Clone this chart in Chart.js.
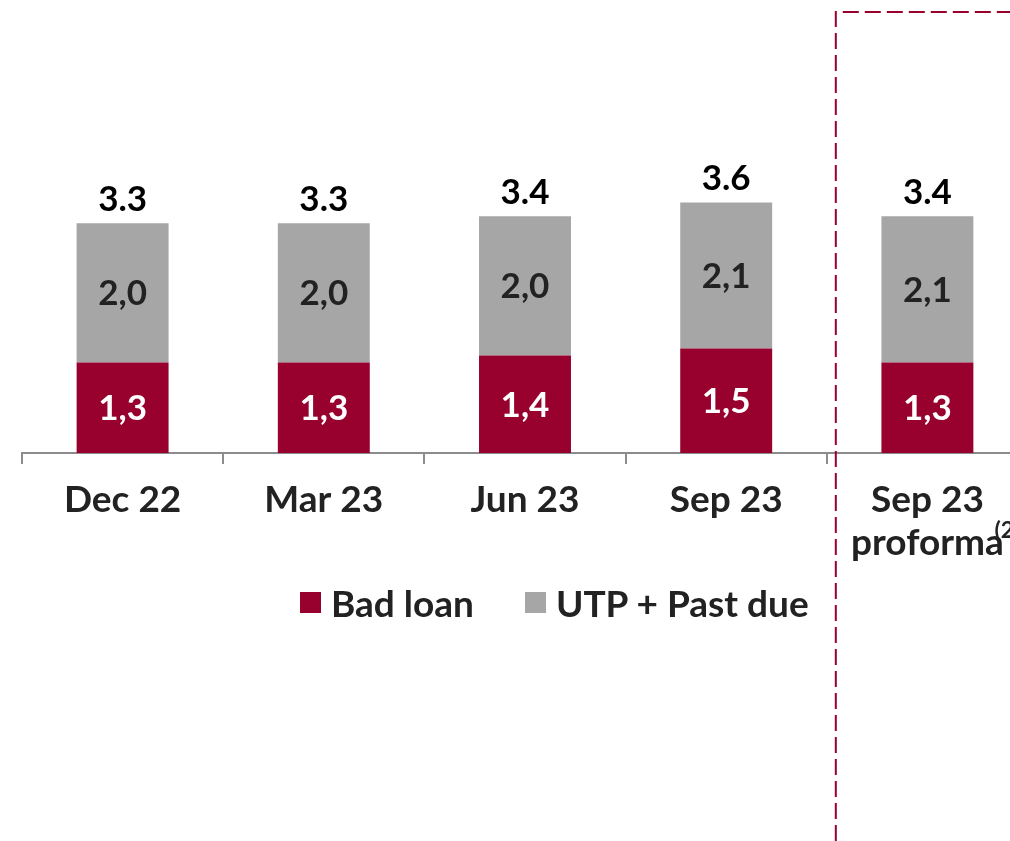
<!DOCTYPE html>
<html>
<head>
<meta charset="utf-8">
<script src="https://cdn.jsdelivr.net/npm/chart.js@4.4.0/dist/chart.umd.min.js"></script>
<style>
  html, body { margin: 0; padding: 0; background: #fff; overflow: hidden; width: 1010px; height: 841px; }
  #wrap { position: relative; width: 1110px; height: 841px; }
  #legend { position: absolute; left: 300px; top: 580px; font-family: Lato, sans-serif; font-weight: 700;
            font-size: 37px; color: #222; white-space: nowrap; display: flex; align-items: center; }
  #legend .item { display: flex; align-items: center; margin-right: 51px; }
  #legend .box { width: 21px; height: 21px; margin-right: 10px; }
</style>
</head>
<body>
<div id="wrap">
  <canvas id="myChart" width="1110" height="841"></canvas>
  <div id="legend"></div>
</div>
<script>
// chart data
const categories = ["Dec 22", "Mar 23", "Jun 23", "Sep 23", ["Sep 23", "proforma"]];
const badLoan = [1.3, 1.3, 1.4, 1.5, 1.3];
const utpPastDue = [2.0, 2.0, 2.0, 2.1, 2.1];
const totals = [3.3, 3.3, 3.4, 3.6, 3.4];
const seriesNames = ["Bad loan", "UTP + Past due"];
const seriesColors = ["#98002e", "#a6a6a6"];

const FONT = "Lato, 'DejaVu Sans', sans-serif";

// labels inside bars + totals on top
const valueLabels = {
    id: 'valueLabels',
    afterDatasetsDraw(chart) {
        const ctx = chart.ctx;
        ctx.save();
        ctx.textAlign = 'center';
        ctx.font = "bold 35px " + FONT;
        chart.data.datasets.forEach((ds, di) => {
            const meta = chart.getDatasetMeta(di);
            meta.data.forEach((bar, i) => {
                const v = ds.data[i];
                ctx.fillStyle = di == 0 ? '#ffffff' : '#222222';
                ctx.textBaseline = 'middle';
                ctx.fillText(v.toFixed(1).replace('.', ','), bar.x, (bar.y + bar.base) / 2 + 1);
            });
        });
        // totals
        const top = chart.getDatasetMeta(chart.data.datasets.length - 1);
        top.data.forEach((bar, i) => {
            ctx.fillStyle = '#000000';
            ctx.textBaseline = 'alphabetic';
            ctx.fillText(totals[i].toFixed(1), bar.x, bar.y - 12);
        });
        ctx.restore();
    }
};

// dashed frame around the proforma column + footnote mark
const proformaFrame = {
    id: 'proformaFrame',
    afterDraw(chart) {
        const ctx = chart.ctx;
        const xs = chart.scales.x;
        const x = (xs.getPixelForValue(3) + xs.getPixelForValue(4)) / 2 + 9;
        ctx.save();
        ctx.strokeStyle = '#98002e';
        ctx.lineWidth = 2;
        ctx.setLineDash([16, 6]);
        ctx.beginPath();
        ctx.moveTo(x, 841);
        ctx.lineTo(x, 12);
        ctx.lineTo(chart.width, 12);
        ctx.stroke();
        ctx.setLineDash([]);
        ctx.fillStyle = '#222222';
        ctx.font = "bold 23px " + FONT;
        ctx.textAlign = 'left';
        ctx.textBaseline = 'alphabetic';
        ctx.fillText('(2)', xs.getPixelForValue(4) + 67, 538);
        ctx.restore();
    }
};

const ctx = document.getElementById('myChart');

myChart = new Chart(ctx, {
    type: 'bar',
    data: {
        labels: categories,
        datasets: [{
            label: seriesNames[0],
            data: badLoan,
            backgroundColor: seriesColors[0]
        }, {
            label: seriesNames[1],
            data: utpPastDue,
            backgroundColor: seriesColors[1]
        }]
    },
    options: {
        responsive: false,
        animation: false,
        layout: { padding: { left: 22, right: 82, top: 105, bottom: 258 } },
        datasets: {
            bar: { categoryPercentage: 1.0, barPercentage: 0.457 }
        },
        plugins: {
            legend: { display: false },
            tooltip: { enabled: false }
        },
        scales: {
            x: {
                stacked: true,
                afterFit: (scale) => { scale.height = 130; },
                grid: {
                    offset: true,
                    drawOnChartArea: false,
                    drawTicks: true,
                    tickLength: 11,
                    color: '#8c8c8c',
                    lineWidth: 2
                },
                border: { display: true, color: '#8c8c8c', width: 2 },
                ticks: {
                    color: '#222222',
                    font: { family: FONT, size: 37, weight: 'bold', lineHeight: 1.15 },
                    padding: 15,
                    maxRotation: 0,
                    autoSkip: false
                }
            },
            y: {
                stacked: true,
                display: false,
                min: 0,
                max: 5
            }
        }
    },
    plugins: [valueLabels, proformaFrame]
});

// legend built from the series arrays
const legend = document.getElementById('legend');
for (let i = 0; i < seriesNames.length; i++) {
    const item = document.createElement('div');
    item.className = 'item';
    item.innerHTML = '<span class="box" style="background:' + seriesColors[i] + '"></span>' + seriesNames[i];
    legend.appendChild(item);
}
</script>
</body>
</html>
